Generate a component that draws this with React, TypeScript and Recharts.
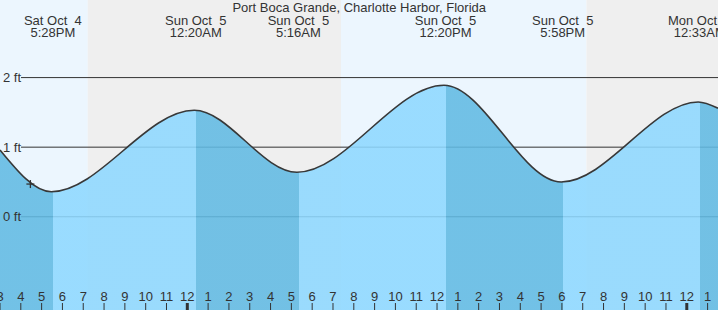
import React from 'react';
import {
  ComposedChart,
  Area,
  XAxis,
  YAxis,
  CartesianGrid,
  ReferenceArea,
  ReferenceDot,
} from 'recharts';

// Time is in hours relative to Sun Oct 5, 00:00 local time.
const titleText = 'Port Boca Grande, Charlotte Harbor, Florida';
const timeDomain: [number, number] = [-9, 25.5]; // Sat 3:00 PM .. Mon 1:30 AM
const heightDomain: [number, number] = [-1.34, 3.115];
const heightTicks = [0, 1, 2];
const hourTicks = [
  -9, -8, -7, -6, -5, -4, -3, -2, -1, 0, 1, 2, 3, 4, 5, 6, 7, 8, 9, 10, 11, 12,
  13, 14, 15, 16, 17, 18, 19, 20, 21, 22, 23, 24, 25,
];

// Tide curve points (edges + highs/lows).
const tideTimes = [-9, -6.533, 0.333, 5.267, 12.333, 17.967, 24.55, 25.5];
const tideHeights = [0.96, 0.36, 1.53, 0.64, 1.89, 0.5, 1.65, 1.56];

// High / low labels.
const extremeTimes = [-6.533, 0.333, 5.267, 12.333, 17.967, 24.55];
const extremeDates = ['Sat Oct  4', 'Sun Oct  5', 'Sun Oct  5', 'Sun Oct  5', 'Sun Oct  5', 'Mon Oct  6'];
const extremeClock = ['5:28PM', '12:20AM', '5:16AM', '12:20PM', '5:58PM', '12:33AM'];

// Where the fill changes between falling (dark) and rising (light) tide.
const fillBreaks = [-6.453, 0.418, 5.352, 12.43, 18.052, 24.636];

// Sunset, sunrise, sunset.
const sunTimes = [-4.783, 7.383, 19.183];

// Current time marker.
const nowTime = -7.54;
const nowHeight = 0.47;

const FONT = '"Liberation Sans", Arial, Helvetica, sans-serif';
const TEXT = '#333333';
const DAY_BG = '#ECF6FE';
const NIGHT_BG = '#EFEFEF';
const FALL_FILL = '#61BAE3';
const RISE_FILL = '#8ED8FF';

const tideData = tideTimes.map((t, i) => ({ t, h: tideHeights[i] }));

const bandEdges = [timeDomain[0], ...sunTimes, timeDomain[1]];
const bands = bandEdges.slice(0, -1).map((x1, i) => ({
  x1,
  x2: bandEdges[i + 1],
  fill: i % 2 === 0 ? DAY_BG : NIGHT_BG,
}));

const fillEdges = [timeDomain[0], ...fillBreaks, timeDomain[1]];
const span = timeDomain[1] - timeDomain[0];
const gradientStops: { offset: number; color: string }[] = [];
fillEdges.slice(0, -1).forEach((a, i) => {
  const b = fillEdges[i + 1];
  const color = i % 2 === 0 ? FALL_FILL : RISE_FILL;
  gradientStops.push({ offset: (a - timeDomain[0]) / span, color });
  gradientStops.push({ offset: (b - timeDomain[0]) / span, color });
});

const hourLabel = (v: number) => {
  const h = ((Math.round(v) % 24) + 24) % 24;
  return h % 12 === 0 ? 12 : h % 12;
};

const BottomTick = (props: any) => {
  const { x, y, payload } = props;
  const v = payload.value as number;
  const h = ((Math.round(v) % 24) + 24) % 24;
  const midnight = h === 0;
  return (
    <g>
      <line x1={x} x2={x} y1={y + 2} y2={y + 10} stroke={TEXT} strokeWidth={midnight ? 3 : 1} />
      <text x={x} y={y} textAnchor="middle" fontSize={13} fontFamily={FONT} fill={TEXT}>
        {hourLabel(v)}
      </text>
    </g>
  );
};

const TopTick = (props: any) => {
  const { x, y, payload } = props;
  const i = extremeTimes.indexOf(payload.value);
  if (i < 0) return <g />;
  return (
    <g>
      <text
        x={x + 1.5}
        y={y + 24.6}
        textAnchor="middle"
        fontSize={13}
        fontFamily={FONT}
        fill={TEXT}
        style={{ whiteSpace: 'pre' }}
      >
        {extremeDates[i]}
      </text>
      <text x={x + 1.5} y={y + 36.9} textAnchor="middle" fontSize={13} fontFamily={FONT} fill={TEXT}>
        {extremeClock[i]}
      </text>
    </g>
  );
};

const LeftTick = (props: any) => {
  const { x, y, payload } = props;
  return (
    <text x={x} y={y + 4.6} textAnchor="start" fontSize={13} fontFamily={FONT} fill={TEXT}>
      {`${payload.value} ft`}
    </text>
  );
};

const GridLine = (props: any) => {
  const { x1, y1, x2, y2, key } = props;
  return <line key={key} x1={x1 + 21} y1={y1} x2={x2} y2={y2} stroke={TEXT} strokeWidth={1} />;
};

const NowMarker = (props: any) => {
  const { cx, cy } = props;
  return (
    <g>
      <line x1={cx - 4} x2={cx + 4} y1={cy} y2={cy} stroke={TEXT} strokeWidth={1.3} />
      <line x1={cx} x2={cx} y1={cy - 4} y2={cy + 4} stroke={TEXT} strokeWidth={1.3} />
    </g>
  );
};

export default function App() {
  return (
    <div style={{ position: 'absolute', left: 0, top: 0, width: 718, height: 310 }}>
      <ComposedChart width={718} height={310} data={tideData} margin={{ top: 0, right: 0, bottom: 0, left: 0 }}>
        <defs>
          <linearGradient id="tideFill" x1="0" y1="0" x2="1" y2="0">
            {gradientStops.map((s, i) => (
              <stop key={i} offset={s.offset} stopColor={s.color} stopOpacity={1} />
            ))}
          </linearGradient>
        </defs>
        {bands.map((b, i) => (
          <ReferenceArea
            key={i}
            x1={b.x1}
            x2={b.x2}
            fill={b.fill}
            fillOpacity={1}
            stroke="none"
            zIndex={-200}
          />
        ))}
        <CartesianGrid vertical={false} horizontal={GridLine} horizontalValues={heightTicks} />
        <Area
          type="monotone"
          dataKey="h"
          stroke="#383838"
          strokeWidth={1.6}
          fill="url(#tideFill)"
          fillOpacity={0.88}
          baseValue={heightDomain[0]}
          dot={false}
          activeDot={false}
          isAnimationActive={false}
        />
        <ReferenceDot x={nowTime} y={nowHeight} r={4} shape={NowMarker} />
        <XAxis
          dataKey="t"
          type="number"
          domain={timeDomain}
          allowDataOverflow
          ticks={hourTicks}
          interval={0}
          mirror
          height={1}
          tickSize={7}
          tickMargin={2}
          axisLine={false}
          tickLine={false}
          tick={BottomTick}
        />
        <XAxis
          xAxisId="top"
          dataKey="t"
          orientation="top"
          type="number"
          domain={timeDomain}
          allowDataOverflow
          ticks={extremeTimes}
          interval={0}
          mirror
          height={1}
          tickSize={0}
          tickMargin={0}
          axisLine={false}
          tickLine={false}
          tick={TopTick}
        />
        <YAxis
          type="number"
          domain={heightDomain}
          allowDataOverflow
          ticks={heightTicks}
          interval={0}
          mirror
          width={1}
          tickSize={0}
          tickMargin={3}
          axisLine={false}
          tickLine={false}
          tick={LeftTick}
        />
      </ComposedChart>
      <svg
        width={718}
        height={20}
        style={{ position: 'absolute', left: 0, top: 0, pointerEvents: 'none' }}
      >
        <text x={359.2} y={11.7} textAnchor="middle" fontSize={13} fontFamily={FONT} fill={TEXT}>
          {titleText}
        </text>
      </svg>
    </div>
  );
}
